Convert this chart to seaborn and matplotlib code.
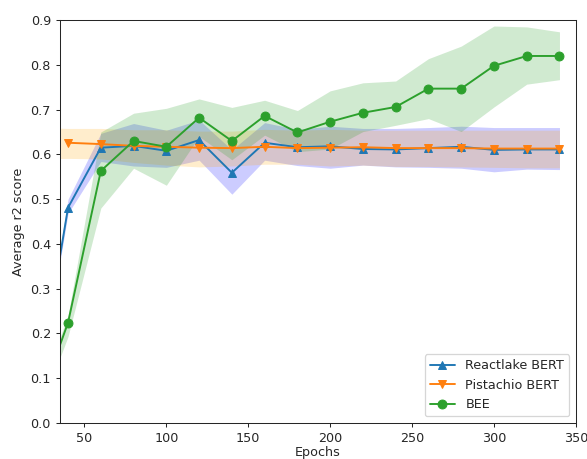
import numpy as np
import seaborn as sns
import matplotlib
matplotlib.use('Agg')
import matplotlib.pyplot as plt

sns.set_style('ticks')

epochs = [20, 40, 60, 80, 100, 120, 140, 160, 180, 200, 220, 240, 260, 280, 300, 320, 340]

# Reactlake BERT
react_mean = [0.04, 0.481, 0.615, 0.619, 0.608, 0.632, 0.559, 0.626, 0.616, 0.618, 0.612, 0.611,
              0.614, 0.617, 0.610, 0.611, 0.611]
react_low = [0.03, 0.468, 0.584, 0.574, 0.571, 0.587, 0.511, 0.587, 0.575, 0.569, 0.576, 0.572,
             0.571, 0.569, 0.561, 0.567, 0.566]
react_high = [0.05, 0.500, 0.647, 0.669, 0.654, 0.677, 0.610, 0.671, 0.656, 0.663, 0.658, 0.658,
              0.660, 0.663, 0.660, 0.660, 0.660]

# Pistachio BERT (line starts at 40, band from 20)
pist_mean = [0.626, 0.623, 0.619, 0.617, 0.615, 0.614, 0.617, 0.614, 0.615, 0.616, 0.614,
             0.614, 0.614, 0.613, 0.613, 0.613]
pist_low = [0.590, 0.591, 0.590, 0.582, 0.576, 0.572, 0.574, 0.578, 0.578, 0.574, 0.576, 0.573,
            0.573, 0.572, 0.571, 0.570, 0.570]
pist_high = [0.660, 0.658, 0.658, 0.655, 0.655, 0.652, 0.652, 0.656, 0.654, 0.656, 0.654, 0.654,
             0.654, 0.654, 0.654, 0.654, 0.654]

# BEE
bee_mean = [0.02, 0.224, 0.563, 0.630, 0.617, 0.682, 0.630, 0.686, 0.649, 0.673, 0.693, 0.706,
            0.747, 0.747, 0.798, 0.820, 0.820]
bee_low = [0.0, 0.193, 0.480, 0.569, 0.531, 0.640, 0.588, 0.643, 0.606, 0.612, 0.651, 0.665,
           0.680, 0.651, 0.706, 0.757, 0.767]
bee_high = [0.04, 0.240, 0.650, 0.692, 0.703, 0.724, 0.705, 0.721, 0.698, 0.742, 0.760, 0.764,
            0.814, 0.842, 0.887, 0.885, 0.874]

dpi = 92
fig, ax = plt.subplots(figsize=(587 / dpi, 459 / dpi), dpi=dpi)
fig.subplots_adjust(left=0.102, right=0.981, top=0.956, bottom=0.079)

c_blue, c_orange, c_green = sns.color_palette('tab10')[:3]

ax.fill_between(epochs, react_low, react_high, color='blue', alpha=0.2, linewidth=0)
ax.fill_between(epochs, pist_low, pist_high, color='orange', alpha=0.2, linewidth=0)
ax.fill_between(epochs, bee_low, bee_high, color=c_green, alpha=0.22, linewidth=0)

sns.lineplot(x=epochs, y=react_mean, marker='^', color=c_blue, markeredgecolor=c_blue,
             markersize=7, label='Reactlake BERT', ax=ax)
sns.lineplot(x=epochs[1:], y=pist_mean, marker='v', color=c_orange, markeredgecolor=c_orange,
             markersize=7, label='Pistachio BERT', ax=ax)
sns.lineplot(x=epochs, y=bee_mean, marker='o', color=c_green, markeredgecolor=c_green,
             markersize=7, label='BEE', ax=ax)

ax.set_xlim(35, 350)
ax.set_ylim(0.0, 0.9)
ax.set_xlabel('Epochs', labelpad=1)
ax.set_ylabel('Average r2 score')
ax.legend(loc='lower right')

plt.savefig('out.png', dpi=dpi)
